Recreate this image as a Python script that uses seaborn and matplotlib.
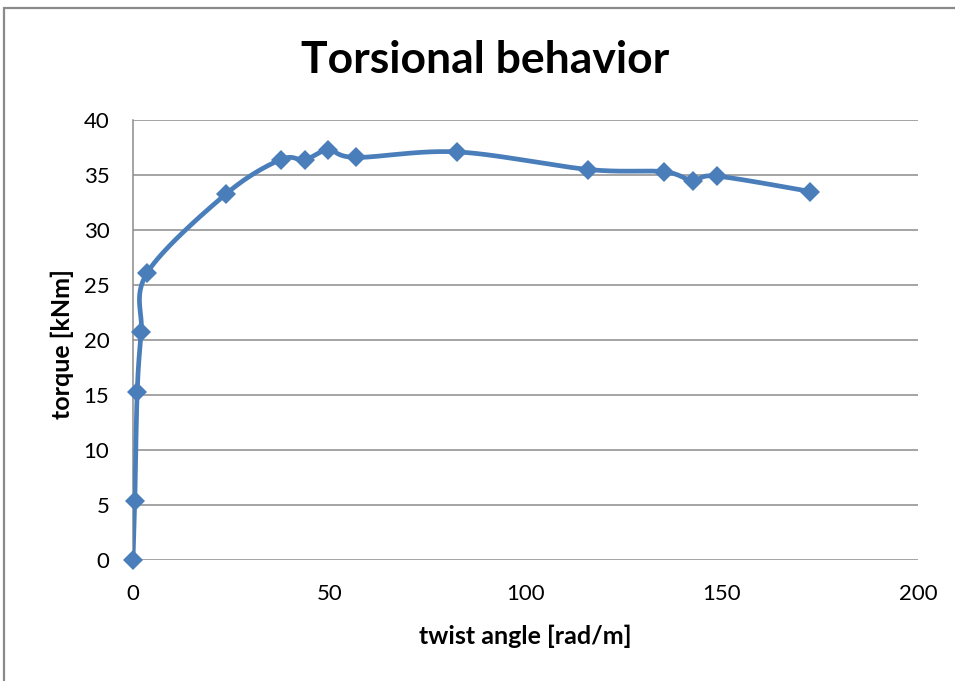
import numpy as np
import pandas as pd
import seaborn as sns
import matplotlib
matplotlib.use("Agg")
import matplotlib.pyplot as plt
from matplotlib.patches import Rectangle

# Measured torque vs. twist angle
twist_angle = [0.0, 0.46, 1.07, 2.1, 3.6, 23.6, 37.6, 43.8, 49.7, 56.9,
               82.6, 116.0, 135.2, 142.6, 148.7, 172.6]
torque = [0.0, 5.4, 15.3, 20.75, 26.1, 33.25, 36.4, 36.4, 37.27, 36.6,
          37.1, 35.5, 35.3, 34.5, 34.9, 33.5]

x_ticks = [0, 50, 100, 150, 200]
y_ticks = [0, 5, 10, 15, 20, 25, 30, 35, 40]

LINE_BLUE = "#4A7EBB"
GRID_GREY = "#8C8C8C"
FONT = "Lato"


def smooth_curve(xs, ys, sx, sy, n=40):
    """Bezier smoothing (Catmull-Rom style) evaluated in screen-scaled units."""
    P = np.column_stack([np.asarray(xs) * sx, np.asarray(ys) * sy])
    pts = [P[0]]
    for i in range(len(P) - 1):
        p0 = P[i - 1] if i > 0 else P[i]
        p1, p2 = P[i], P[i + 1]
        p3 = P[i + 2] if i + 2 < len(P) else P[i + 1]
        c1 = p1 + (p2 - p0) / 6.0
        c2 = p2 - (p3 - p1) / 6.0
        t = np.linspace(0, 1, n)[1:, None]
        seg = ((1 - t) ** 3) * p1 + 3 * ((1 - t) ** 2) * t * c1 \
            + 3 * (1 - t) * t ** 2 * c2 + t ** 3 * p2
        pts.extend(seg)
    pts = np.array(pts)
    return pts[:, 0] / sx, pts[:, 1] / sy


sns.set_theme(style="white")
plt.rcParams["font.family"] = [FONT, "DejaVu Sans"]
plt.rcParams["text.color"] = "black"

fig = plt.figure(figsize=(9.55, 6.81), dpi=100)
ax = fig.add_axes([133 / 955, 1 - 560 / 681, (918 - 133) / 955, (560 - 120) / 681])

# screen-like scaling so the smoothing behaves like on the rendered chart
sx, sy = 785 / 200, 440 / 40
cx, cy = smooth_curve(twist_angle, torque, sx, sy)
curve = pd.DataFrame({"twist": cx, "torque": cy})
points = pd.DataFrame({"twist": twist_angle, "torque": torque})

for y in y_ticks:
    ax.axhline(y, color=GRID_GREY, lw=1.1, zorder=0)

sns.lineplot(data=curve, x="twist", y="torque", sort=False, estimator=None,
             color=LINE_BLUE, lw=3.4, ax=ax, zorder=3, solid_capstyle="round")
ax.plot(points["twist"], points["torque"], linestyle="none", marker="D",
        markersize=10, color=LINE_BLUE, markeredgewidth=0, zorder=4,
        clip_on=False)

ax.set_xlim(0, 200)
ax.set_ylim(0, 40)
ax.set_xticks(x_ticks)
ax.set_yticks(y_ticks)
ax.tick_params(axis="both", length=0, labelsize=16, labelcolor="black")
ax.tick_params(axis="x", pad=17)
ax.tick_params(axis="y", pad=17)

for side in ["top", "right", "bottom"]:
    ax.spines[side].set_visible(False)
ax.spines["left"].set_color(GRID_GREY)
ax.spines["left"].set_linewidth(1.1)
ax.set_facecolor("none")

ax.set_xlabel("twist angle [rad/m]", fontsize=18, fontweight="bold",
              color="black", va="center")
ax.set_ylabel("torque [kNm]", fontsize=18, fontweight="bold",
              color="black", va="center")
ax.xaxis.set_label_coords((525 - 133) / 785, (560 - 636) / 440)
ax.yaxis.set_label_coords((62 - 133) / 785, (560 - 344) / 440)

fig.text(485 / 955, 1 - 60 / 681, "Torsional behavior", ha="center", va="center",
         fontsize=32, fontweight="bold", color="black")

# chart-area border
fig.patches.append(Rectangle((4 / 955, -0.05), 1.2, 1 - 8 / 681 + 0.05,
                             transform=fig.transFigure, fill=False,
                             edgecolor="#8A8A8A", lw=1.6))

fig.savefig("out.png", dpi=100)
